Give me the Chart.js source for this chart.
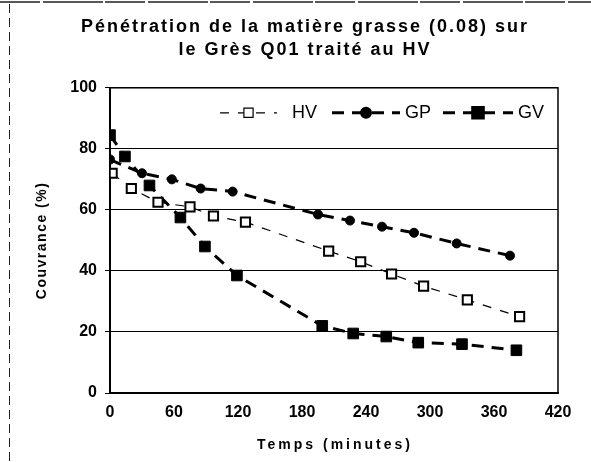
<!DOCTYPE html>
<html><head><meta charset="utf-8">
<script src="https://cdn.jsdelivr.net/npm/chart.js@4/dist/chart.umd.min.js"></script>
<style>html,body{margin:0;padding:0;background:#fff}#wrap{width:591px;height:462px}</style>
</head><body><div id="wrap"><canvas id="c" width="591" height="462"></canvas></div>
<script>
const titleLines = ['Pénétration de la matière grasse (0.08) sur', 'le Grès Q01 traité au HV'];
const xAxisTitle = 'Temps (minutes)';
const yAxisTitle = 'Couvrance (%)';
const seriesNames = ['HV', 'GP', 'GV'];
const hvTime  = [2, 20, 45, 75, 97, 127, 205, 235, 264, 294, 335, 384];
const hvCover = [72, 67, 62.5, 61, 58, 56, 46.5, 43, 39, 35, 30.5, 25];
const gpTime  = [0, 30, 58, 85, 115, 195, 225, 255, 285, 325, 375];
const gpCover = [76.5, 72, 70, 67, 66, 58.5, 56.5, 54.5, 52.5, 49, 45];
const gvTime  = [0, 14, 37, 66, 89, 119, 199, 228, 259, 289, 330, 381];
const gvCover = [84.5, 77.5, 68, 57.5, 48, 38.5, 22, 19.5, 18.5, 16.5, 16, 14];
const xTickValues = [0, 60, 120, 180, 240, 300, 360, 420];
const yTickValues = [0, 20, 40, 60, 80, 100];

const pts = (xs, ys) => xs.map((x, i) => ({x: x, y: ys[i]}));
const FONT = "'Liberation Sans', Arial, sans-serif";

const framePlugin = {
  id: 'frame',
  beforeDraw(chart) {
    const ctx = chart.ctx;
    ctx.save();
    ctx.fillStyle = '#fff';
    ctx.fillRect(0, 0, chart.width, chart.height);
    ctx.strokeStyle = '#222';
    ctx.lineWidth = 1.5;
    ctx.setLineDash([40, 3, 60, 2]);
    ctx.beginPath(); ctx.moveTo(0, 2); ctx.lineTo(chart.width, 2); ctx.stroke();
    ctx.lineWidth = 1;
    ctx.setLineDash([9, 5]);
    ctx.beginPath(); ctx.moveTo(9.5, 4); ctx.lineTo(9.5, chart.height); ctx.stroke();
    ctx.restore();
    // spaced lettering for the title (reset before datasets / tick labels)
    ctx.letterSpacing = '2px';
  },
  beforeDatasetsDraw(chart) {
    chart.ctx.letterSpacing = '0px';
  },
  afterDraw(chart) {
    const ctx = chart.ctx, a = chart.chartArea;
    ctx.save();
    ctx.strokeStyle = '#000';
    ctx.lineWidth = 1.5;
    ctx.strokeRect(a.left, a.top, a.right - a.left, a.bottom - a.top);
    // axis titles
    ctx.fillStyle = '#000';
    ctx.font = 'bold 14px ' + FONT;
    ctx.textAlign = 'center';
    ctx.textBaseline = 'middle';
    ctx.letterSpacing = '3px';
    ctx.fillText(xAxisTitle, (a.left + a.right) / 2 + 1, 445);
    ctx.letterSpacing = '1.5px';
    ctx.translate(42, (a.top + a.bottom) / 2);
    ctx.rotate(-Math.PI / 2);
    ctx.fillText(yAxisTitle, 0, 0);
    ctx.restore();

    // legend inside plot
    const legendX = [[220, 277, 292], [332, 400, 405], [443, 513, 518]];
    const ly = a.top + 25;
    chart.data.datasets.forEach((ds, i) => {
      const [x1, x2, tx] = legendX[i];
      ctx.save();
      ctx.letterSpacing = '0px';
      ctx.strokeStyle = ds.borderColor;
      ctx.lineWidth = ds.borderWidth;
      ctx.setLineDash(ds.borderDash);
      ctx.beginPath(); ctx.moveTo(x1, ly); ctx.lineTo(x2, ly); ctx.stroke();
      ctx.setLineDash([]);
      ctx.fillStyle = ds.pointBackgroundColor;
      ctx.strokeStyle = ds.pointBorderColor;
      Chart.helpers.drawPoint(ctx, {pointStyle: ds.pointStyle, radius: ds.pointRadius, borderWidth: ds.pointBorderWidth, rotation: 0}, (x1 + x2) / 2, ly);
      ctx.fillStyle = '#000';
      ctx.font = '18px ' + FONT;
      ctx.textAlign = 'left';
      ctx.textBaseline = 'middle';
      ctx.fillText(ds.label, tx, ly);
      ctx.restore();
    });
  }
};

new Chart(document.getElementById('c'), {
  type: 'scatter',
  data: {
    datasets: [
      { label: seriesNames[0], data: pts(hvTime, hvCover), showLine: true,
        borderColor: '#000', borderWidth: 1.2, borderDash: [9, 9],
        pointStyle: 'rect', pointRadius: 6.5, pointBackgroundColor: '#fff', pointBorderColor: '#000', pointBorderWidth: 2 },
      { label: seriesNames[1], data: pts(gpTime, gpCover), showLine: true,
        borderColor: '#000', borderWidth: 3, borderDash: [12, 8],
        pointStyle: 'circle', pointRadius: 4.5, pointBackgroundColor: '#000', pointBorderColor: '#000', pointBorderWidth: 1 },
      { label: seriesNames[2], data: pts(gvTime, gvCover), showLine: true,
        borderColor: '#000', borderWidth: 3, borderDash: [12, 8],
        pointStyle: 'rect', pointRadius: 7.5, pointBackgroundColor: '#000', pointBorderColor: '#000', pointBorderWidth: 1 }
    ]
  },
  options: {
    responsive: false, animation: false, devicePixelRatio: 1,
    layout: { padding: { left: 52, right: 33, top: 0, bottom: 0 } },
    plugins: {
      legend: { display: false },
      tooltip: { enabled: false },
      title: { display: true, text: titleLines, color: '#000',
        font: { family: FONT, size: 18, weight: 'bold', lineHeight: 1.3 },
        padding: { top: 15, bottom: 26 } }
    },
    scales: {
      x: { type: 'linear', min: 0, max: 420,
        afterBuildTicks: s => { s.ticks = xTickValues.map(v => ({value: v})); },
        afterFit: s => { s.height = 69; },
        ticks: { z: 1, color: '#000', font: { family: FONT, size: 16, weight: 'bold' }, padding: 10, maxRotation: 0 },
        grid: { drawOnChartArea: false, drawTicks: false },
        border: { color: '#000', width: 2 } },
      y: { min: 0, max: 100,
        afterBuildTicks: s => { s.ticks = yTickValues.map(v => ({value: v})); },
        afterFit: s => { s.width = 58; },
        ticks: { z: 1, color: '#000', font: { family: FONT, size: 16, weight: 'bold' }, padding: 8 },
        grid: { color: '#000', lineWidth: 1, tickLength: 5 },
        border: { color: '#000', width: 2 } }
    }
  },
  plugins: [framePlugin]
});
</script></body></html>
